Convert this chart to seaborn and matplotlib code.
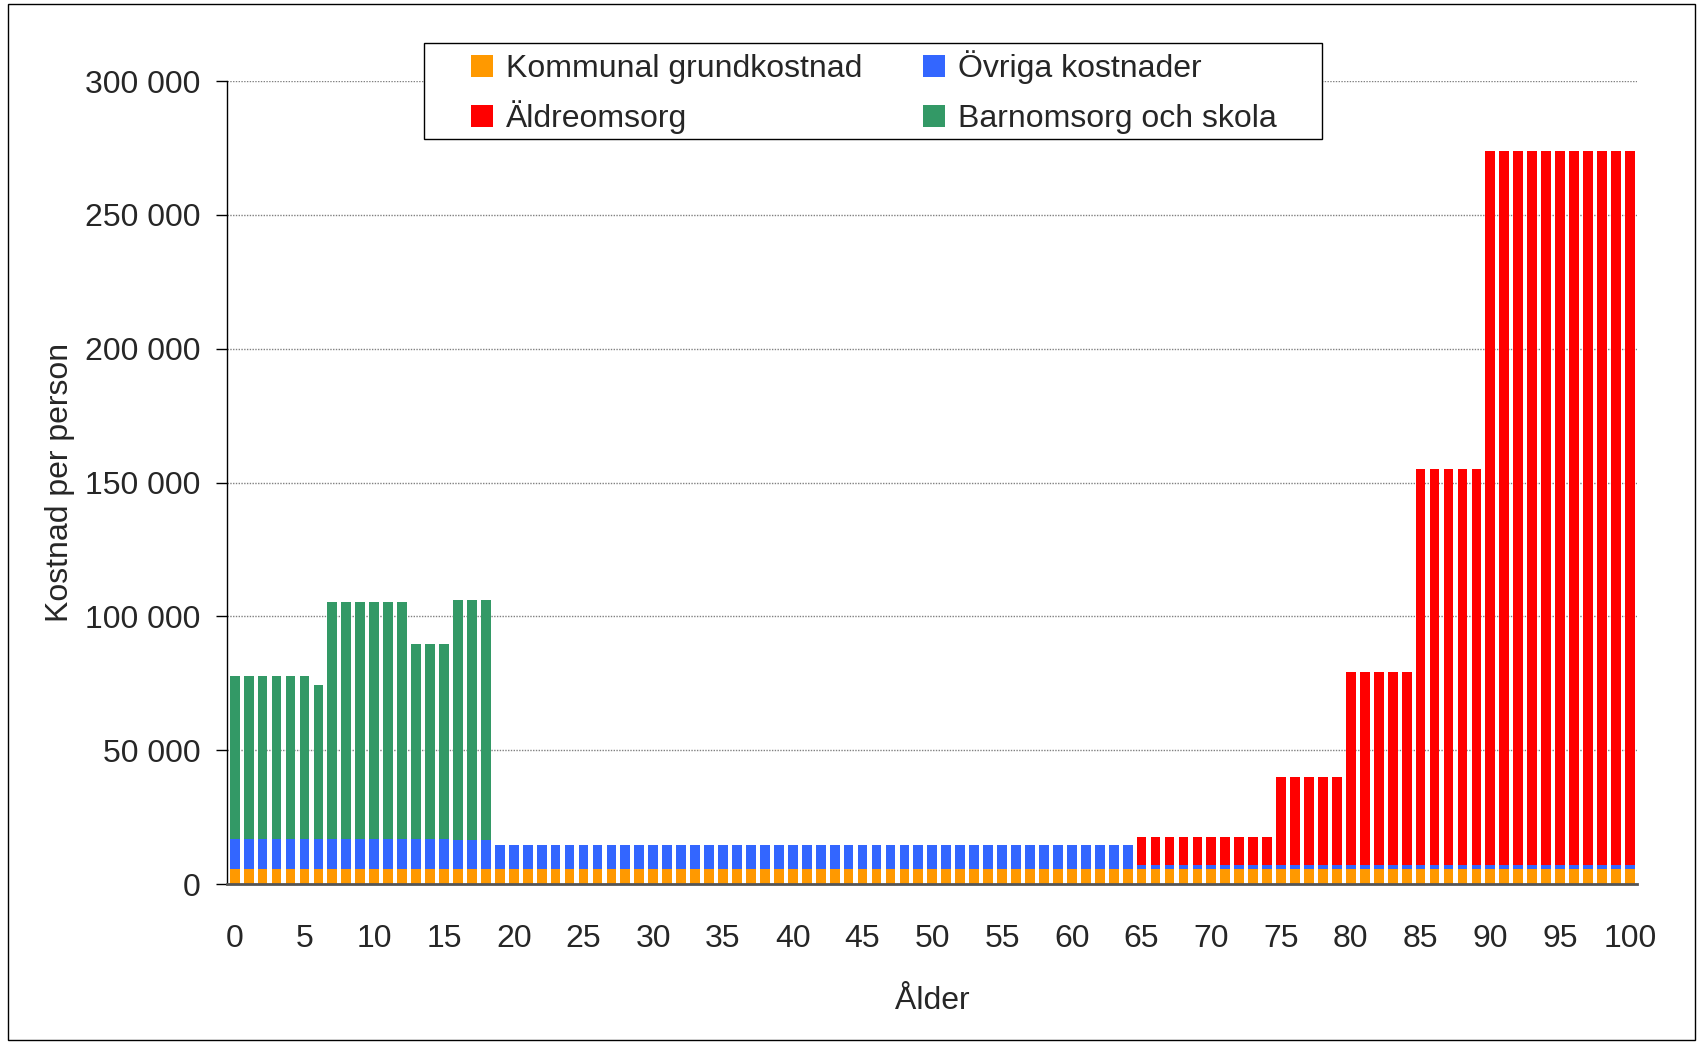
import pandas as pd
import matplotlib.pyplot as plt
import matplotlib.ticker as mticker
from matplotlib.patches import Rectangle
from matplotlib.container import BarContainer
from matplotlib.legend_handler import HandlerPatch, update_from_first_child
import seaborn as sns

# Data (kr per person and age)
ages = list(range(101))
grundkostnad = [5600] * 101
ovriga = [11200] * 16 + [11000] * 3 + [8900] * 46 + [1500] * 36
barnomsorg = [60800] * 6 + [57400] + [88400] * 6 + [72700] * 3 + [89400] * 3 + [0] * 82
aldreomsorg = [0] * 65 + [10400] * 10 + [32900] * 5 + [72200] * 5 + [147900] * 5 + [266900] * 11

df = pd.DataFrame({'age': ages, 'grund': grundkostnad, 'ovriga': ovriga,
                   'barn': barnomsorg, 'aldre': aldreomsorg})
df['c1'] = df['grund']
df['c2'] = df['c1'] + df['ovriga']
df['c_aldre'] = df['c2'] + df['aldre']
df['c_barn'] = df['c2'] + df['barn']

sns.set_style('white')
plt.rcParams['font.family'] = ['Liberation Sans', 'DejaVu Sans']
FS = 23

fig = plt.figure(figsize=(16.98, 10.42), dpi=100)
ax = fig.add_axes([0.1337, 0.1516, 0.964 - 0.1337, 0.9222 - 0.1516])

# stacked bars: draw cumulative totals from the top layer down
layers = [('c_aldre', '#FF0000', 'Äldreomsorg'),
          ('c_barn', '#339966', 'Barnomsorg och skola'),
          ('c2', '#3366FF', 'Övriga kostnader'),
          ('c1', '#FF9900', 'Kommunal grundkostnad')]
for col, color, lab in layers:
    sns.barplot(data=df, x='age', y=col, color=color, width=0.7, saturation=1,
                errorbar=None, label=lab, linewidth=0, ax=ax)

ax.set_xlim(-0.55, 100.5)
ax.set_ylim(0, 300000)
ax.set_yticks(range(0, 300001, 50000))
ax.yaxis.set_major_formatter(mticker.FuncFormatter(lambda v, p: f'{int(v):,}'.replace(',', ' ')))
ax.set_xticks(range(0, 101, 5))
ax.set_xticklabels([str(a) for a in range(0, 101, 5)])

ax.tick_params(axis='y', length=8, width=1, color='black', direction='out',
               labelsize=FS, pad=11, left=True)
ax.tick_params(axis='x', length=0, labelsize=FS, pad=29)

ax.yaxis.grid(True, color='#808080', linestyle=(0, (1, 1)), linewidth=1)
ax.set_axisbelow(True)

for s in ['top', 'right']:
    ax.spines[s].set_visible(False)
ax.spines['left'].set_color('black')
ax.spines['left'].set_linewidth(1)
ax.spines['bottom'].set_color('#555555')
ax.spines['bottom'].set_linewidth(2)

ax.set_xlabel('Ålder', fontsize=FS)
ax.set_ylabel('Kostnad per person', fontsize=FS)
ax.xaxis.set_label_coords(0.5, -0.127)
ax.yaxis.set_label_coords(-0.108, 0.5)


# small square legend marker inside a tall handle box, so all rows get the same height
def square(legend, orig_handle, xdescent, ydescent, width, height, fontsize):
    s = 0.7 * fontsize
    return Rectangle((-xdescent, 0.35 * fontsize - s / 2), s, s)


ax.add_patch(Rectangle((0.1397, 0.9278), 0.637, 0.1195, transform=ax.transAxes,
                       facecolor='white', edgecolor='black', linewidth=1,
                       clip_on=False, zorder=9))
handles, labels = ax.get_legend_handles_labels()
order = [labels.index(n) for n in ['Kommunal grundkostnad', 'Äldreomsorg',
                                   'Övriga kostnader', 'Barnomsorg och skola']]
leg = ax.legend([handles[i] for i in order], [labels[i] for i in order], ncol=2,
                loc='upper left', bbox_to_anchor=(0.1730, 1.0422), borderaxespad=0,
                borderpad=0, fontsize=FS, frameon=False,
                handlelength=0.7, handleheight=1.5, handletextpad=0.4,
                labelspacing=0.34, columnspacing=1.9,
                handler_map={BarContainer: HandlerPatch(patch_func=square,
                                                        update_func=update_from_first_child)})
leg.set_zorder(10)

fig.patches.append(Rectangle((0.005, 0.002), 0.993, 0.994, transform=fig.transFigure,
                             fill=False, edgecolor='black', linewidth=1))

fig.savefig('out.png', dpi=100)
